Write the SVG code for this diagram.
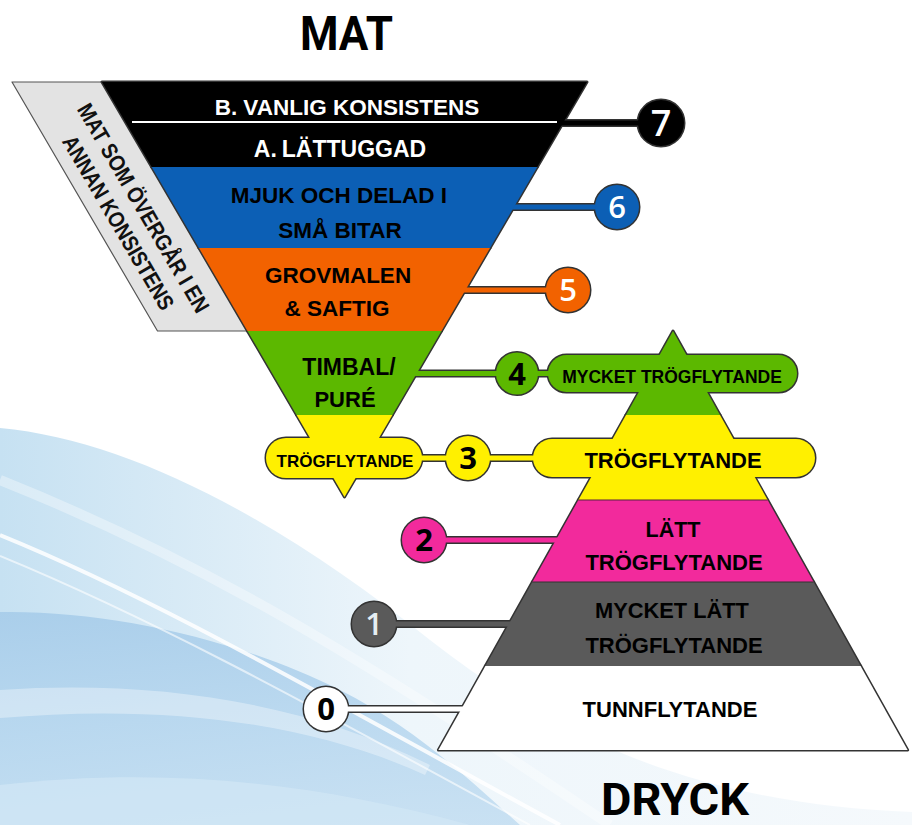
<svg xmlns="http://www.w3.org/2000/svg" xmlns:xlink="http://www.w3.org/1999/xlink" width="912" height="825" viewBox="0 0 912 825">
<defs>
<style>
.lbl{font-family:"Liberation Sans",Arial,sans-serif;font-weight:bold;text-anchor:middle}
.num{font-family:"Open Sans","Liberation Sans",sans-serif;font-weight:600;text-anchor:middle}
.numb{font-family:"Open Sans","Liberation Sans",sans-serif;font-weight:700;text-anchor:middle}
.ttl{font-family:Roboto,"Liberation Sans",sans-serif;font-weight:bold;fill:#000}
.ol{fill:none;stroke:#333;stroke-width:3;stroke-linejoin:round}
.olk{fill:none;stroke:#333;stroke-width:8}
.k{fill:none;stroke-width:5}
</style>
<linearGradient id="bgA" x1="0" y1="0" x2="1" y2="0">
<stop offset="0" stop-color="#c6e1f2"/>
<stop offset="0.45" stop-color="#eef6fb"/>
<stop offset="1" stop-color="#f5f9fc"/>
</linearGradient>
<linearGradient id="bgB" x1="0" y1="0" x2="0" y2="1">
<stop offset="0" stop-color="#a5cbe9"/>
<stop offset="0.5" stop-color="#b4d5ee"/>
<stop offset="1" stop-color="#c2ddf1"/>
</linearGradient>
<polygon id="s-f7" points="102,82 587,82 537.3,167 151.7,167"/>
<polygon id="s-f6" points="151.7,167 537.3,167 490,248 199,248"/>
<polygon id="s-f5" points="199,248 490,248 441.5,331 247.5,331"/>
<polygon id="s-f4" points="247.5,331 441.5,331 392.4,415 296.6,415"/>
<polygon id="s-f3" points="296.6,415 392.4,415 344.5,497"/>
<rect id="s-f3p" x="266" y="438" width="156" height="40" rx="20"/>
<polygon id="s-d4" points="673,331 720,415 626,415"/>
<rect id="s-d4p" x="548" y="355" width="249" height="37" rx="18.5"/>
<polygon id="s-d3" points="626,415 720,415 767.6,500 578.4,500"/>
<rect id="s-d3p" x="533" y="439" width="282" height="38" rx="19"/>
<polygon id="s-d2" points="578.4,500 767.6,500 813.6,582 532.4,582"/>
<polygon id="s-d1" points="532.4,582 813.6,582 860.6,666 485.4,666"/>
<polygon id="s-d0" points="485.4,666 860.6,666 907.6,750 438.4,750"/>
<circle id="c7" cx="661" cy="123" r="23"/>
<circle id="c6" cx="617" cy="207" r="22"/>
<circle id="c5" cx="568" cy="290" r="22"/>
<circle id="c4" cx="517" cy="373.5" r="21"/>
<circle id="c3" cx="468" cy="458" r="22"/>
<circle id="c2" cx="424" cy="540" r="22"/>
<circle id="c1" cx="374" cy="624" r="22"/>
<circle id="c0" cx="326" cy="709" r="22"/>
<path id="k7" d="M550,123 H645"/>
<path id="k6" d="M505,207 H600"/>
<path id="k5" d="M455,290 H550"/>
<path id="k4" d="M408,373.5 H560"/>
<path id="k3" d="M410,458 H545"/>
<path id="k2" d="M440,540 H566"/>
<path id="k1" d="M390,624 H520"/>
<path id="k0" d="M342,709 H472"/>
</defs>

<g id="background">
<rect x="0" y="0" width="912" height="825" fill="#ffffff"/>
<path d="M0,428 C130,440 280,520 430,640 C570,750 720,805 912,812 L912,825 L0,825 Z" fill="url(#bgA)"/>
<path d="M0,612 C110,610 240,640 340,690 C420,730 480,790 520,825 L0,825 Z" fill="url(#bgB)" opacity="0.85"/>
<path d="M0,690 C150,680 300,700 430,765 L425,775 C300,718 150,705 0,718 Z" fill="#ffffff" opacity="0.35"/>
<path d="M0,785 C150,768 300,778 470,825 L0,825 Z" fill="#d2e7f5" opacity="0.7"/>
<path d="M0,480 C200,560 360,655 610,825" fill="none" stroke="#ffffff" stroke-width="10" opacity="0.35"/>
<path d="M0,535 C160,600 330,700 560,825" fill="none" stroke="#ffffff" stroke-width="4" opacity="0.85"/>
<path d="M0,556 C170,626 340,722 530,825" fill="none" stroke="#ffffff" stroke-width="2" opacity="0.6"/>
</g>

<g id="titles">
<text class="ttl" x="300" y="50" font-size="48" textLength="93" lengthAdjust="spacingAndGlyphs">MAT</text>
<text class="ttl" x="601" y="815" font-size="45" textLength="148" lengthAdjust="spacingAndGlyphs">DRYCK</text>
</g>

<g id="side-label">
<polygon points="12,82 102,82 247.5,331 157.5,331" fill="#e3e3e3" stroke="#555" stroke-width="1.2" stroke-linejoin="round"/>
<g transform="translate(131.5,215) rotate(59.6)">
<text class="lbl" x="0" y="-6" font-size="22.5" fill="#111" textLength="238" lengthAdjust="spacingAndGlyphs">MAT SOM ÖVERGÅR I EN</text>
<text class="lbl" x="0" y="23" font-size="22.5" fill="#111" textLength="198" lengthAdjust="spacingAndGlyphs">ANNAN KONSISTENS</text>
</g>
</g>

<g id="outline-layer">
<use href="#s-f7" class="ol"/><use href="#s-f6" class="ol"/><use href="#s-f5" class="ol"/>
<use href="#s-f4" class="ol"/><use href="#s-f3" class="ol"/><use href="#s-f3p" class="ol"/>
<use href="#s-d4" class="ol"/><use href="#s-d4p" class="ol"/><use href="#s-d3" class="ol"/>
<use href="#s-d3p" class="ol"/><use href="#s-d2" class="ol"/><use href="#s-d1" class="ol"/>
<use href="#s-d0" class="ol"/>
<use href="#c7" class="ol"/><use href="#c6" class="ol"/><use href="#c5" class="ol"/><use href="#c4" class="ol"/>
<use href="#c3" class="ol"/><use href="#c2" class="ol"/><use href="#c1" class="ol"/><use href="#c0" class="ol"/>
<use href="#k7" class="olk"/><use href="#k6" class="olk"/><use href="#k5" class="olk"/><use href="#k4" class="olk"/>
<use href="#k3" class="olk"/><use href="#k2" class="olk"/><use href="#k1" class="olk"/><use href="#k0" class="olk"/>
</g>

<g id="connectors">
<use href="#k7" class="k" stroke="#000000"/>
<use href="#k6" class="k" stroke="#0c5fb5"/>
<use href="#k5" class="k" stroke="#f26200"/>
<use href="#k4" class="k" stroke="#5cb800"/>
<use href="#k3" class="k" stroke="#fff000"/>
<use href="#k2" class="k" stroke="#f22a9c"/>
<use href="#k1" class="k" stroke="#5a5a5a"/>
<use href="#k0" class="k" stroke="#ffffff"/>
</g>

<g id="food-7">
<use href="#s-f7" fill="#000000"/>
<line x1="132" y1="122" x2="557" y2="122" stroke="#ffffff" stroke-width="2"/>
<text class="lbl" x="347" y="115" font-size="22.5" fill="#ffffff">B.<tspan dx="6">VANLIG KONSISTENS</tspan></text>
<text class="lbl" x="340" y="157" font-size="23" fill="#ffffff">A.<tspan dx="5">LÄTTUGGAD</tspan></text>
<use href="#c7" fill="#000000"/>
<text class="num" x="661" y="136" font-size="36" fill="#ffffff">7</text>
</g>

<g id="food-6">
<use href="#s-f6" fill="#0c5fb5"/>
<text class="lbl" x="339" y="203" font-size="22.5" fill="#000">MJUK OCH DELAD I</text>
<text class="lbl" x="340" y="238" font-size="22.5" fill="#000">SMÅ BITAR</text>
<use href="#c6" fill="#0c5fb5"/>
<text class="num" x="617" y="218" font-size="31" fill="#ffffff">6</text>
</g>

<g id="food-5">
<use href="#s-f5" fill="#f26200"/>
<text class="lbl" x="338" y="283" font-size="22.5" fill="#000">GROVMALEN</text>
<text class="lbl" x="337" y="316" font-size="22.5" fill="#000">&amp; SAFTIG</text>
<use href="#c5" fill="#f26200"/>
<text class="num" x="568" y="301" font-size="31" fill="#ffffff">5</text>
</g>

<g id="level-4">
<use href="#s-f4" fill="#5cb800"/>
<text class="lbl" x="349" y="375" font-size="23" fill="#000">TIMBAL/</text>
<text class="lbl" x="345" y="407" font-size="22" fill="#000">PURÉ</text>
<use href="#c4" fill="#5cb800"/>
<text class="numb" x="517" y="384.5" font-size="31" fill="#000">4</text>
<use href="#s-d4" fill="#5cb800"/>
<use href="#s-d4p" fill="#5cb800"/>
<text class="lbl" x="672" y="383" font-size="17.5" fill="#000">MYCKET TRÖGFLYTANDE</text>
</g>

<g id="level-3">
<use href="#s-f3" fill="#fff000"/>
<use href="#s-f3p" fill="#fff000"/>
<text class="lbl" x="345" y="467" font-size="17" fill="#000">TRÖGFLYTANDE</text>
<use href="#c3" fill="#fff000"/>
<text class="numb" x="468" y="469" font-size="31" fill="#000">3</text>
<use href="#s-d3" fill="#fff000"/>
<use href="#s-d3p" fill="#fff000"/>
<text class="lbl" x="673" y="468" font-size="22" fill="#000">TRÖGFLYTANDE</text>
</g>

<g id="drink-2">
<use href="#s-d2" fill="#f22a9c"/>
<line x1="578.4" y1="500" x2="767.6" y2="500" stroke="#5a2040" stroke-width="1"/>
<text class="lbl" x="673" y="537" font-size="21.5" fill="#000">LÄTT</text>
<text class="lbl" x="674" y="570" font-size="22" fill="#000">TRÖGFLYTANDE</text>
<use href="#c2" fill="#f22a9c"/>
<text class="numb" x="424" y="551" font-size="31" fill="#000">2</text>
</g>

<g id="drink-1">
<use href="#s-d1" fill="#5a5a5a"/>
<line x1="532.4" y1="582" x2="813.6" y2="582" stroke="#333" stroke-width="1"/>
<text class="lbl" x="672" y="618" font-size="21.8" fill="#000">MYCKET LÄTT</text>
<text class="lbl" x="674" y="653" font-size="22" fill="#000">TRÖGFLYTANDE</text>
<use href="#c1" fill="#5a5a5a"/>
<text class="num" x="374" y="635" font-size="31" fill="#e6eef3">1</text>
</g>

<g id="drink-0">
<use href="#s-d0" fill="#ffffff"/>
<text class="lbl" x="670" y="717" font-size="22" fill="#000">TUNNFLYTANDE</text>
<use href="#c0" fill="#ffffff"/>
<text class="numb" x="326" y="720" font-size="31" fill="#000">0</text>
</g>
</svg>
